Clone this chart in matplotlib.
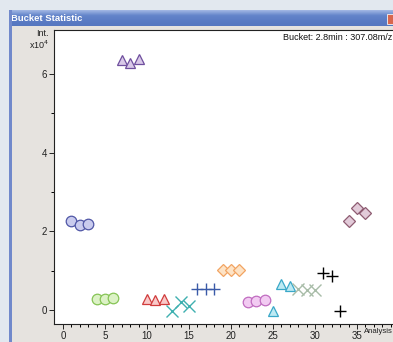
import matplotlib
matplotlib.use("Agg")
import matplotlib.pyplot as plt
from matplotlib.patches import Rectangle
from matplotlib.colors import LinearSegmentedColormap
import numpy as np

W, H = 393, 342
plt.rcParams['font.family'] = ['Liberation Sans', 'DejaVu Sans']

# ---- data (analysis index, intensity x10^4) ----
x_blue_circ = [1, 2, 3];      y_blue_circ = [2.25, 2.15, 2.18]
x_green_circ = [4, 5, 6];     y_green_circ = [0.28, 0.28, 0.30]
x_purple_tri = [7, 8, 9];     y_purple_tri = [6.36, 6.28, 6.38]
x_red_tri = [10, 11, 12];     y_red_tri = [0.27, 0.24, 0.27]
x_cyan_x = [13, 14, 15];      y_cyan_x = [-0.04, 0.21, 0.11]
x_blue_plus = [16, 17, 18];   y_blue_plus = [0.53, 0.53, 0.53]
x_orange_dia = [19, 20, 21];  y_orange_dia = [1.02, 1.02, 1.02]
x_pink_circ = [22, 23, 24];   y_pink_circ = [0.20, 0.23, 0.25]
x_cyan_tri = [25, 26, 27];    y_cyan_tri = [-0.04, 0.66, 0.61]
x_gray_x = [28, 29, 30];      y_gray_x = [0.53, 0.50, 0.50]
x_black_plus = [31, 32, 33];  y_black_plus = [0.93, 0.87, -0.04]
x_mauve_dia = [34, 35, 36];   y_mauve_dia = [2.25, 2.60, 2.46]

x_ticks = [0, 5, 10, 15, 20, 25, 30, 35]
x_tick_labels = ['0', '5', '10', '15', '20', '25', '30', '35']
y_ticks = [0, 2, 4, 6]
y_tick_labels = ['0', '2', '4', '6']

series = [
    (x_blue_circ, y_blue_circ, 'o', '#c9cbee', '#4f56a6'),
    (x_green_circ, y_green_circ, 'o', '#dcf2c6', '#86c455'),
    (x_purple_tri, y_purple_tri, '^', '#d9c9e8', '#6f4f9e'),
    (x_red_tri, y_red_tri, '^', '#f9c9c9', '#d03c3c'),
    (x_cyan_x, y_cyan_x, 'x', '#3fb0b0', '#3fb0b0'),
    (x_blue_plus, y_blue_plus, '+', '#3a5aa8', '#3a5aa8'),
    (x_orange_dia, y_orange_dia, 'D', '#fde3c6', '#f2a462'),
    (x_pink_circ, y_pink_circ, 'o', '#f2cbf2', '#c06cc0'),
    (x_cyan_tri, y_cyan_tri, '^', '#bdeaf3', '#3aa8c8'),
    (x_gray_x, y_gray_x, 'x', '#a8bca8', '#a8bca8'),
    (x_black_plus, y_black_plus, '+', '#000000', '#000000'),
    (x_mauve_dia, y_mauve_dia, 'D', '#e2cbd9', '#8e5c72'),
]

fig = plt.figure(figsize=(W / 100, H / 100), dpi=100)
fig.patch.set_facecolor('#e2e8ef')

def fx(px): return px / W
def fy(py): return 1 - py / H

# window body
fig.add_artist(Rectangle((fx(9), 0), fx(W) - fx(9), fy(10), transform=fig.transFigure,
                         facecolor='#e6e3df', edgecolor='none', zorder=0))
# left blue border
fig.add_artist(Rectangle((fx(9), 0), fx(3), fy(10), transform=fig.transFigure,
                         facecolor='#7189cb', edgecolor='none', zorder=1))
# title bar with vertical gradient
tb = fig.add_axes([fx(9), fy(26), 1 - fx(9), fy(10) - fy(26)])
grad = np.linspace(0, 1, 64).reshape(-1, 1)
cm = LinearSegmentedColormap.from_list('tb', ['#a3b8e4', '#6485ca', '#5a7bc4', '#5677c0'])
tb.imshow(grad, aspect='auto', cmap=cm, extent=[0, 1, 0, 1])
tb.set_axis_off()
tb.text(0.005, 0.45, 'Bucket Statistic', color='white', fontsize=6.8, fontweight='bold',
        va='center', ha='left', transform=tb.transAxes)
fig.add_artist(Rectangle((fx(387), fy(24)), fx(8), fy(14) - fy(24), transform=fig.transFigure,
                         facecolor='#d8664e', edgecolor='#f4f4f4', linewidth=0.6, zorder=5))

# plot axes
left, right, top, bottom = 54, 395, 30, 324
ax = fig.add_axes([fx(left), fy(bottom), fx(right) - fx(left), fy(top) - fy(bottom)])
ax.set_facecolor('white')
for xs, ys, m, fc, ec in series:
    if m in ('x', '+'):
        ax.plot(xs, ys, linestyle='none', marker=m, markersize=8, color=ec, markeredgewidth=1.0,
                clip_on=False)
    elif m == 'D':
        ax.plot(xs, ys, linestyle='none', marker=m, markersize=6.5, markerfacecolor=fc,
                markeredgecolor=ec, markeredgewidth=0.9)
    else:
        ax.plot(xs, ys, linestyle='none', marker=m, markersize=7.6, markerfacecolor=fc,
                markeredgecolor=ec, markeredgewidth=0.9, clip_on=False)

ax.set_xlim(-1.07, (right - 63) / 8.4)
ax.set_ylim(-0.36, 7.12)
ax.set_xticks(x_ticks)
ax.set_xticklabels(x_tick_labels)
ax.set_xticks(np.arange(0, 40, 1), minor=True)
ax.set_yticks(y_ticks)
ax.set_yticklabels(y_tick_labels)
ax.set_yticks([1, 3, 5], minor=True)
ax.tick_params(axis='both', which='major', direction='out', length=3.6, width=0.7,
               labelsize=7, pad=1.5, colors='#222222')
ax.tick_params(axis='both', which='minor', direction='out', length=2.2, width=0.7)
ax.spines['right'].set_visible(False)
for s in ('left', 'bottom', 'top'):
    ax.spines[s].set_linewidth(0.8)
    ax.spines[s].set_color('#222222')

fig.text(fx(283), fy(37), 'Bucket: 2.8min : 307.08m/z', fontsize=6.5, ha='left', va='center',
         color='#111111')
fig.text(fx(49), fy(34), 'Int.', fontsize=6.5, ha='right', va='center', color='#222222')
fig.text(fx(49), fy(45), r'x10$^4$', fontsize=6.5, ha='right', va='center', color='#222222')
fig.text(fx(364), fy(331.5), 'Analysis', fontsize=5.6, ha='left', va='center', color='#222222')

fig.savefig('out.png', dpi=100, facecolor=fig.get_facecolor())
